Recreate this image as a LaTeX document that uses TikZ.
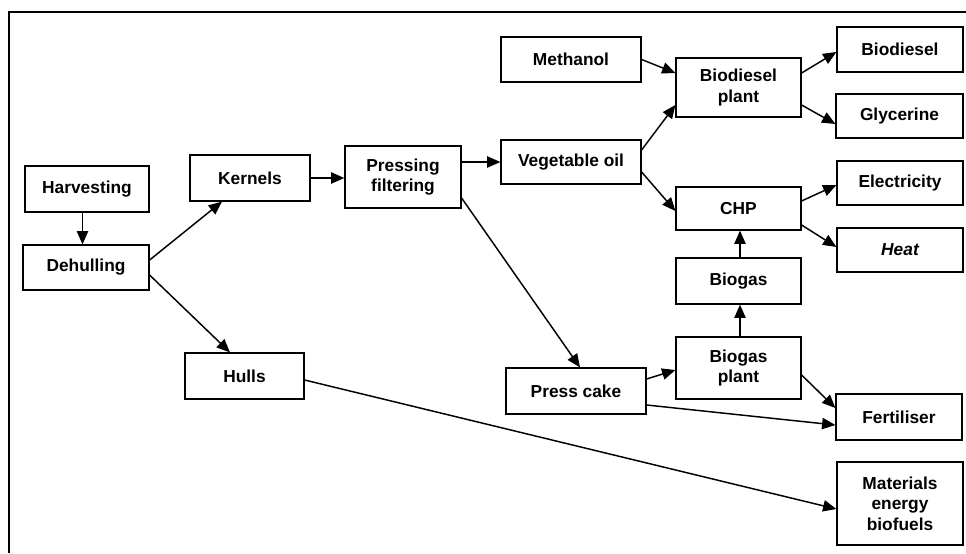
\documentclass[tikz,border=0pt]{standalone}
\usepackage{fontspec}
\setmainfont{Liberation Sans}
\usetikzlibrary{arrows.meta,calc}
\tikzset{
  px/.style={x=0.75pt,y=-0.75pt},
  box/.style={draw,line width=0.9pt,inner sep=0pt,align=center,
    font=\fontsize{13}{15.5}\selectfont\bfseries},
  sz/.style 2 args={minimum width=#1*0.75pt,minimum height=#2*0.75pt},
  flow/.style={line width=1.1pt,-{Triangle[length=10pt,width=8.5pt]}},
  frame/.style={line width=1pt}
}
\begin{document}
\begin{tikzpicture}[px]
\useasboundingbox (0,0) rectangle (966,553);
% outer frame (only the top and left edges lie inside the page)
\coordinate (fTL) at (9,12);
\coordinate (fTR) at (966,12);
\coordinate (fBL) at (9,553);
\draw[frame] (fBL) -- (fTL) -- (fTR);

% process boxes
\node[box,sz={124}{46}]  (harv)   at (87,189)    {Harvesting};
\node[box,sz={126}{45}]  (dehull) at (86,267.5)  {Dehulling};
\node[box,sz={120}{46}]  (kern)   at (250,178)   {Kernels};
\node[box,sz={116}{62}]  (press)  at (403,177)   {Pressing\\filtering};
\node[box,sz={119}{46}]  (hulls)  at (244.5,376) {Hulls};
\node[box,sz={140}{45}]  (meth)   at (571,59.5)  {Methanol};
\node[box,sz={140}{44}]  (vegoil) at (571,162)   {Vegetable oil};
\node[box,sz={140}{46}]  (cake)   at (576,391)   {Press cake};
\node[box,sz={125}{59}]  (bdpl)   at (738.5,87.5){Biodiesel\\plant};
\node[box,sz={125}{43}]  (chp)    at (738.5,208.5){CHP};
\node[box,sz={125}{46}]  (biogas) at (738.5,281) {Biogas};
\node[box,sz={125}{62}]  (bgpl)   at (738.5,368) {Biogas\\plant};
\node[box,sz={126}{45}]  (biod)   at (900,49.5)  {Biodiesel};
\node[box,sz={127}{44}]  (glyc)   at (899.5,116) {Glycerine};
\node[box,sz={126}{44}]  (elec)   at (900,183)   {Electricity};
\node[box,sz={126}{44}]  (heat)   at (900,250)   {\itshape Heat};
\node[box,sz={126}{46}]  (fert)   at (899,417)   {Fertiliser};
\node[box,sz={126}{83}]  (mat)    at (900,503.5) {Materials\\energy\\biofuels};

% flows
\draw[flow] ($(harv.south)+(-4.5,0)$) -- ($(dehull.north)+(-3.5,0)$);
\draw[flow] ($(dehull.east)+(0,-7.5)$) -- ($(kern.south)+(-28,0)$);
\draw[flow] ($(dehull.east)+(0,7.5)$) -- ($(hulls.north)+(-14.5,0)$);
\draw[flow] (kern.east) -- (kern.east -| press.west);
\draw[flow] (vegoil.west -| press.east) -- (vegoil.west);
\draw[flow] ($(press.east)+(0,21)$) -- ($(cake.north)+(4,0)$);
\draw[flow] (meth.east) -- ($(bdpl.west)+(0,-14.5)$);
\draw[flow] ($(vegoil.east)+(0,-12)$) -- ($(bdpl.west)+(0,17.5)$);
\draw[flow] ($(vegoil.east)+(0,10)$) -- ($(chp.west)+(0,2.5)$);
\draw[flow] ($(bdpl.east)+(0,-14.5)$) -- ($(biod.west)+(0,2.5)$);
\draw[flow] ($(bdpl.east)+(0,17.5)$) -- ($(glyc.west)+(0,8)$);
\draw[flow] ($(chp.east)+(0,-7.5)$) -- ($(elec.west)+(0,2)$);
\draw[flow] ($(chp.east)+(0,16.5)$) -- ($(heat.west)+(0,-3)$);
\draw[flow] ($(biogas.north)+(1.5,0)$) -- ($(chp.south)+(1.5,0)$);
\draw[flow] ($(bgpl.north)+(1.5,0)$) -- ($(biogas.south)+(1.5,0)$);
\draw[flow] ($(cake.east)+(0,-12)$) -- ($(bgpl.west)+(0,2)$);
\draw[flow] ($(bgpl.east)+(0,7)$) -- ($(fert.west)+(0,-9)$);
\draw[flow] ($(cake.east)+(0,14)$) -- ($(fert.west)+(0,8)$);
\draw[flow] ($(hulls.east)+(0,4)$) -- ($(mat.west)+(0,5.5)$);
\end{tikzpicture}
\end{document}
